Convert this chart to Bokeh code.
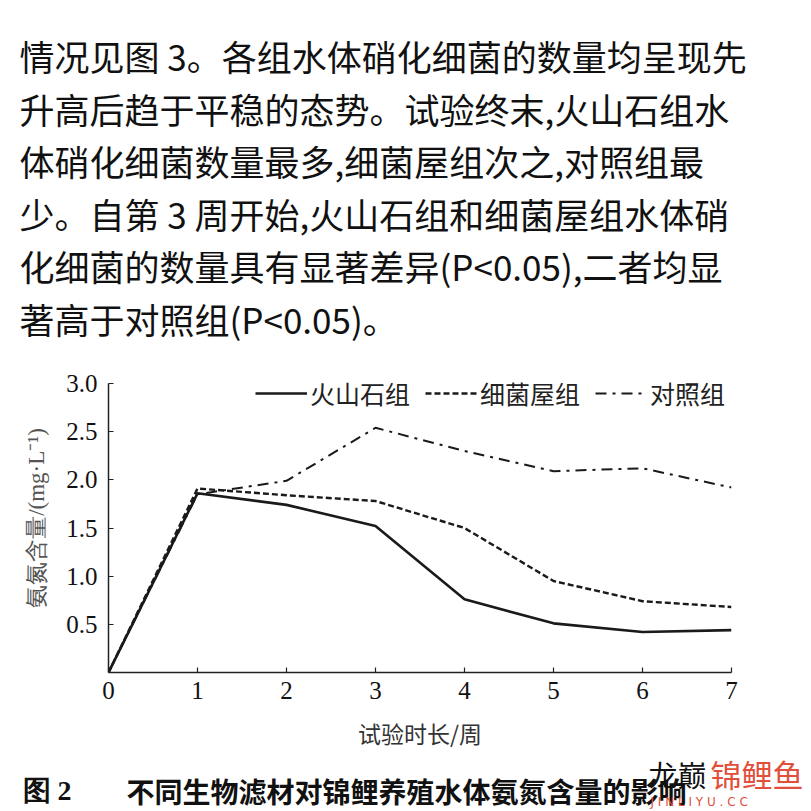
from bokeh.plotting import figure
from bokeh.layouts import column
from bokeh.models import Range1d, FixedTicker, PrintfTickFormatter, Label, Legend, LegendItem
from bokeh.embed import file_html
from bokeh.resources import INLINE

# ---- data ----
weeks = [0, 1, 2, 3, 4, 5, 6, 7]
volcanic = [0.0, 1.86, 1.74, 1.52, 0.76, 0.51, 0.42, 0.44]      # 火山石组
bacteria_house = [0.0, 1.91, 1.84, 1.78, 1.50, 0.95, 0.74, 0.68]  # 细菌屋组
control = [0.0, 1.85, 1.99, 2.54, 2.30, 2.09, 2.12, 1.92]       # 对照组
series_names = ["火山石组", "细菌屋组", "对照组"]
x_ticks = [0, 1, 2, 3, 4, 5, 6, 7]
y_ticks = [0.5, 1.0, 1.5, 2.0, 2.5, 3.0]
y_axis_max = 3.0
x_title = "试验时长/周"
y_title = "氨氮含量/(mg·L⁻¹)"
caption_num = "图 2"
caption_text = "不同生物滤材对锦鲤养殖水体氨氮含量的影响"
paragraph = [
    "情况见图 3。各组水体硝化细菌的数量均呈现先",
    "升高后趋于平稳的态势。试验终末,火山石组水",
    "体硝化细菌数量最多,细菌屋组次之,对照组最",
    "少。自第 3 周开始,火山石组和细菌屋组水体硝",
    "化细菌的数量具有显著差异(P<0.05),二者均显",
    "著高于对照组(P<0.05)。",
]

# ---- layout (pixels) ----
W = 811
TOP_H, MID_H, BOT_H = 360, 392, 59
AX_TOP_PX, AX_BOT_PX = 383, 672          # page pixels of y=3.0 and y=0
FRAME_TOP_PX = 363                       # frame extends a little above the axis top
FL, FR = 108, 731
FT = FRAME_TOP_PX - TOP_H
FB = AX_BOT_PX - TOP_H
y_end = y_axis_max * (AX_BOT_PX - FRAME_TOP_PX) / (AX_BOT_PX - AX_TOP_PX)
CJK = "Noto Sans CJK SC"
SERIF = "Liberation Serif"


def text_panel(h):
    f = figure(width=W, height=h, output_backend="svg", toolbar_location=None,
               x_range=Range1d(0, W), y_range=Range1d(h, 0),
               x_axis_location=None, y_axis_location=None, min_border=0,
               frame_align=False)
    f.outline_line_color = None
    f.xgrid.visible = False
    f.ygrid.visible = False
    f.background_fill_color = "white"
    f.border_fill_color = "white"
    return f


# ---- paragraph panel ----
top = text_panel(TOP_H)
for i, line in enumerate(paragraph):
    top.add_layout(Label(x=19, y=55 + 52.5 * i, text=line,
                         text_font=CJK, text_font_size="35px", text_color="#111111",
                         text_align="left", text_baseline="middle"))

# ---- chart ----
p = figure(width=W, height=MID_H, output_backend="svg", toolbar_location=None,
           x_range=Range1d(0, 7), y_range=Range1d(0, y_end),
           min_border_left=FL, min_border_right=W - FR,
           min_border_top=FT, min_border_bottom=MID_H - FB,
           frame_align=False)
p.outline_line_color = None
p.xgrid.visible = False
p.ygrid.visible = False
p.background_fill_color = "white"
p.border_fill_color = "white"

for ax in (p.xaxis[0], p.yaxis[0]):
    ax.axis_line_color = "#222222"
    ax.axis_line_width = 1.5
    ax.major_tick_line_color = "#222222"
    ax.major_tick_line_width = 1.2
    ax.major_tick_in = 5
    ax.major_tick_out = 0
    ax.minor_tick_line_color = None
    ax.major_label_text_font = SERIF
    ax.major_label_text_font_size = "25px"
    ax.major_label_text_color = "#111111"
    ax.axis_label_text_font_style = "normal"

p.yaxis.bounds = (0, y_axis_max)
p.xaxis.ticker = FixedTicker(ticks=x_ticks)
p.yaxis.ticker = FixedTicker(ticks=y_ticks)
p.yaxis.formatter = PrintfTickFormatter(format="%.1f")
p.xaxis.major_label_standoff = 9
p.yaxis.major_label_standoff = 11
p.xaxis.axis_label = x_title
p.xaxis.axis_label_text_font = CJK
p.xaxis.axis_label_text_font_size = "23px"
p.xaxis.axis_label_text_color = "#333333"
p.xaxis.axis_label_standoff = 14
p.yaxis.axis_label = y_title
p.yaxis.axis_label_text_font = SERIF
p.yaxis.axis_label_text_font_size = "23px"
p.yaxis.axis_label_text_color = "#555555"
p.yaxis.axis_label_standoff = 14

r1 = p.line(weeks, volcanic, line_color="#1a1a1a", line_width=2.6)
r2 = p.line(weeks, bacteria_house, line_color="#1a1a1a", line_width=2.4, line_dash="6 3")
r3 = p.line(weeks, control, line_color="#1a1a1a", line_width=2.0, line_dash="11 6 3 6")

legend = Legend(items=[LegendItem(label=series_names[0], renderers=[r1]),
                       LegendItem(label=series_names[1], renderers=[r2]),
                       LegendItem(label=series_names[2], renderers=[r3])],
                orientation="horizontal", location=(147, 261),
                label_text_font=CJK, label_text_font_size="25px", label_text_color="#222222",
                glyph_width=52, glyph_height=20, label_standoff=3, spacing=15,
                padding=0, margin=0, border_line_color=None, background_fill_alpha=0)
p.add_layout(legend, "center")

# ---- caption panel ----
bot = text_panel(BOT_H)
bot.add_layout(Label(x=22, y=38, text=caption_num, text_font=SERIF,
                     text_font_size="28px", text_font_style="bold", text_color="#111111",
                     text_align="left", text_baseline="middle"))
bot.add_layout(Label(x=126, y=38, text=caption_text, text_font=CJK,
                     text_font_size="28px", text_font_style="bold", text_color="#111111",
                     text_align="left", text_baseline="middle"))
# watermark
bot.add_layout(Label(x=648, y=21, text="龙巅", text_font=CJK,
                     text_font_size="29px", text_color="#111111",
                     text_align="left", text_baseline="middle"))
bot.add_layout(Label(x=710, y=21, text="锦鲤鱼", text_font=CJK,
                     text_font_size="31px", text_color="#e0503a",
                     text_align="left", text_baseline="middle"))
bot.add_layout(Label(x=650, y=49, text="J I N L I Y U . C C", text_font="DejaVu Sans",
                     text_font_size="12px", text_color="#e0503a",
                     text_align="left", text_baseline="middle"))

layout = column(top, p, bot, spacing=0)
open("out.html", "w").write(file_html(layout, INLINE))
